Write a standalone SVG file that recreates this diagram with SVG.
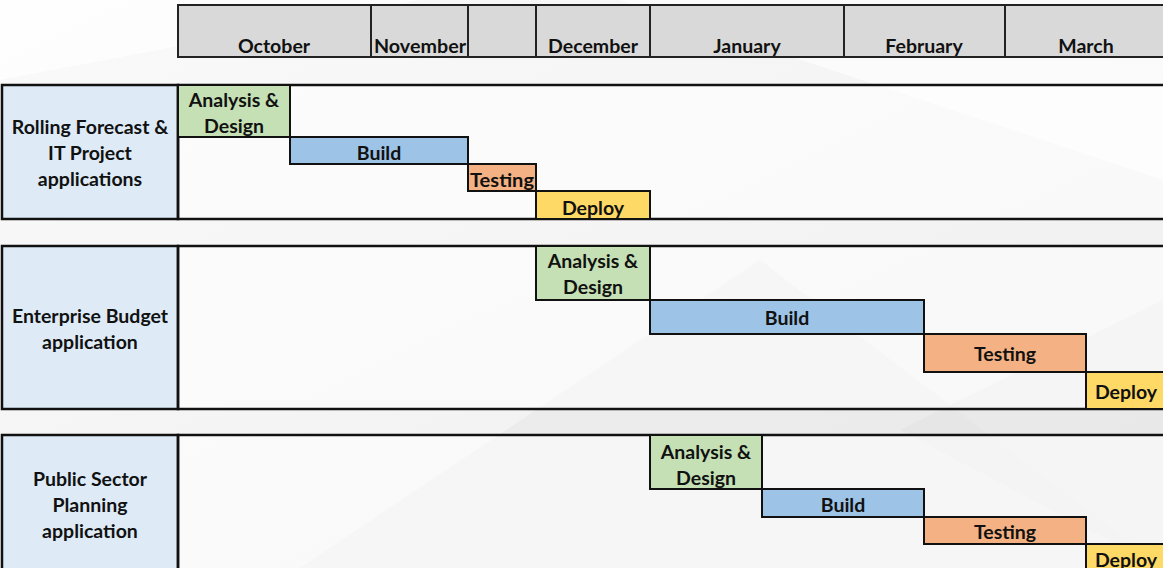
<svg xmlns="http://www.w3.org/2000/svg" width="1163" height="568" viewBox="0 0 1163 568">
<defs>
<linearGradient id="bg" x1="0" y1="0" x2="1" y2="1">
<stop offset="0" stop-color="#fafafa"/>
<stop offset="1" stop-color="#eeeeee"/>
</linearGradient>
<style>
text{font-family:Lato,"Open Sans","Liberation Sans",sans-serif;font-weight:bold;font-size:19.5px;fill:#111;text-anchor:middle}
.hdr{fill:#d9d9d9;stroke:#222;stroke-width:2}
.frame{fill:none;stroke:#111;stroke-width:2.5}
.lbl{fill:#deebf7;stroke:#111;stroke-width:2.5}
.ad{fill:#c5e0b4;stroke:#111;stroke-width:2}
.bd{fill:#9dc3e6;stroke:#111;stroke-width:2}
.ts{fill:#f4b183;stroke:#111;stroke-width:2}
.dp{fill:#ffd966;stroke:#111;stroke-width:2}
.rowbg{fill:#ffffff;fill-opacity:0.55}
</style>
</defs>
<rect width="1163" height="568" fill="url(#bg)"/>
<polygon points="0,0 420,0 0,80" fill="#ffffff" opacity="0.7"/>
<polygon points="300,568 760,260 1163,568" fill="#e6e6e6" opacity="0.5"/>
<polygon points="620,0 1163,0 1163,180" fill="#ffffff" opacity="0.6"/>
<polygon points="900,430 1163,300 1163,568" fill="#e2e2e2" opacity="0.5"/>

<g id="header">
<rect class="hdr" x="178" y="5" width="193" height="52"/>
<rect class="hdr" x="371" y="5" width="97" height="52"/>
<rect class="hdr" x="468" y="5" width="68" height="52"/>
<rect class="hdr" x="536" y="5" width="114" height="52"/>
<rect class="hdr" x="650" y="5" width="194" height="52"/>
<rect class="hdr" x="844" y="5" width="161" height="52"/>
<rect class="hdr" x="1005" y="5" width="165" height="52"/>
<text x="274" y="53">October</text>
<text x="420" y="53" textLength="92" lengthAdjust="spacingAndGlyphs">November</text>
<text x="593" y="53">December</text>
<text x="747" y="53">January</text>
<text x="924" y="53">February</text>
<text x="1086" y="53">March</text>
</g>

<g id="row1">
<rect class="rowbg" x="178" y="85" width="990" height="134"/>
<rect class="lbl" x="2" y="85" width="176" height="134"/>
<text x="90" y="134">Rolling Forecast &amp;</text>
<text x="90" y="160">IT Project</text>
<text x="90" y="186">applications</text>
<rect class="frame" x="178" y="85" width="990" height="134"/>
</g>
<g id="row1-analysis"><rect class="ad" x="178" y="85" width="112" height="52"/><text x="234" y="107">Analysis &amp;</text><text x="234" y="133">Design</text></g>
<g id="row1-build"><rect class="bd" x="290" y="137" width="178" height="27"/><text x="379" y="160">Build</text></g>
<g id="row1-testing"><rect class="ts" x="468" y="164" width="68" height="27"/><text x="502" y="187" textLength="64" lengthAdjust="spacingAndGlyphs">Testing</text></g>
<g id="row1-deploy"><rect class="dp" x="536" y="191" width="114" height="28"/><text x="593" y="215">Deploy</text></g>

<g id="row2">
<rect class="rowbg" x="178" y="246" width="990" height="163"/>
<rect class="lbl" x="2" y="246" width="176" height="163"/>
<text x="90" y="323">Enterprise Budget</text>
<text x="90" y="349">application</text>
<rect class="frame" x="178" y="246" width="990" height="163"/>
</g>
<g id="row2-analysis"><rect class="ad" x="536" y="246" width="114" height="54"/><text x="593" y="268">Analysis &amp;</text><text x="593" y="294">Design</text></g>
<g id="row2-build"><rect class="bd" x="650" y="300" width="274" height="34"/><text x="787" y="325">Build</text></g>
<g id="row2-testing"><rect class="ts" x="924" y="334" width="162" height="38"/><text x="1005" y="361">Testing</text></g>
<g id="row2-deploy"><rect class="dp" x="1086" y="372" width="82" height="37"/><text x="1126" y="399">Deploy</text></g>

<g id="row3">
<rect class="rowbg" x="178" y="435" width="990" height="140"/>
<rect class="lbl" x="2" y="435" width="176" height="140"/>
<text x="90" y="486">Public Sector</text>
<text x="90" y="512">Planning</text>
<text x="90" y="538">application</text>
<rect class="frame" x="178" y="435" width="990" height="140"/>
</g>
<g id="row3-analysis"><rect class="ad" x="650" y="435" width="112" height="54"/><text x="706" y="459">Analysis &amp;</text><text x="706" y="485">Design</text></g>
<g id="row3-build"><rect class="bd" x="762" y="489" width="162" height="28"/><text x="843" y="512">Build</text></g>
<g id="row3-testing"><rect class="ts" x="924" y="517" width="162" height="27"/><text x="1005" y="539">Testing</text></g>
<g id="row3-deploy"><rect class="dp" x="1086" y="544" width="82" height="30"/><text x="1126" y="567">Deploy</text></g>

<g id="connectors"/>
</svg>
